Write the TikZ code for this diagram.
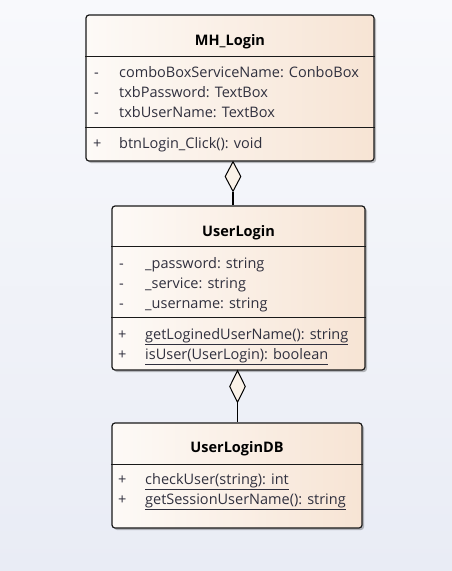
\documentclass[tikz,border=0pt]{standalone}
\usepackage{fontspec}
\setmainfont{Open Sans}
\usetikzlibrary{shapes.geometric, shadows, positioning}

\definecolor{fondhaut}{RGB}{248,249,252}
\definecolor{fondbas}{RGB}{233,236,245}
\definecolor{classegauche}{RGB}{253,250,247}
\definecolor{classedroite}{RGB}{247,228,212}
\definecolor{texteclasse}{RGB}{48,48,62}
\definecolor{fondlosange}{RGB}{250,242,232}

\begin{document}
\begin{tikzpicture}[x=1pt,y=-1pt]
            % Styles
            \tikzstyle{classe}=[draw=black!90,line width=1.2pt,rounded corners=3pt,left color=classegauche,right color=classedroite,drop shadow={shadow xshift=2pt,shadow yshift=-2pt,opacity=0.25,fill=black},inner sep=0pt]
            \tikzstyle{titre}=[font=\fontsize{14.5}{16}\selectfont\bfseries,text=black,anchor=base,inner sep=0pt]
            \tikzstyle{membre}=[font=\fontsize{14.5}{16}\selectfont,text=texteclasse,anchor=base west,inner sep=0pt]
            \tikzstyle{separateur}=[draw=black!90,line width=1pt]
            \tikzstyle{losange}=[diamond,draw=black,line width=1pt,fill=fondlosange,inner sep=0pt,minimum width=16pt,minimum height=30pt]
            \tikzstyle{lien}=[draw=black,line width=1.2pt]
            % Fond
            \shade[top color=fondhaut,bottom color=fondbas] (0,0) rectangle (452,571);
            \useasboundingbox (0,0) rectangle (452,571);
            % Classes
            \node[classe,minimum width=288pt,minimum height=146pt] (MHLogin) at (230,88) {};
            \node[classe,minimum width=253pt,minimum height=164pt] (UserLogin) at (238.5,288) {};
            \node[classe,minimum width=250pt,minimum height=105pt] (UserLoginDB) at (237,475.5) {};
            % Separateurs
            \draw[separateur] (MHLogin.west |- 0,56.5) -- (MHLogin.east |- 0,56.5);
            \draw[separateur] (MHLogin.west |- 0,127) -- (MHLogin.east |- 0,127);
            \draw[separateur] (UserLogin.west |- 0,246) -- (UserLogin.east |- 0,246);
            \draw[separateur] (UserLogin.west |- 0,317) -- (UserLogin.east |- 0,317);
            \draw[separateur] (UserLoginDB.west |- 0,464) -- (UserLoginDB.east |- 0,464);
            % MH_Login
            \node[titre] (MHLoginNom) at (230,45) {MH\_Login};
            \node[membre] (MHa1v) at (94,77) {-};
            \node[membre] (MHa1) at (119,77) {comboBoxServiceName: ConboBox};
            \node[membre] (MHa2v) at (94,97) {-};
            \node[membre] (MHa2) at (119,97) {txbPassword: TextBox};
            \node[membre] (MHa3v) at (94,117) {-};
            \node[membre] (MHa3) at (119,117) {txbUserName: TextBox};
            \node[membre] (MHm1v) at (93,148) {+};
            \node[membre] (MHm1) at (119,148) {btnLogin\_Click(): void};
            % UserLogin
            \node[titre] (UserLoginNom) at (238.5,236) {UserLogin};
            \node[membre] (ULa1v) at (119,268) {-};
            \node[membre] (ULa1) at (145,268) {\_password: string};
            \node[membre] (ULa2v) at (119,288) {-};
            \node[membre] (ULa2) at (145,288) {\_service: string};
            \node[membre] (ULa3v) at (119,308) {-};
            \node[membre] (ULa3) at (145,308) {\_username: string};
            \node[membre] (ULm1v) at (118,339) {+};
            \node[membre] (ULm1) at (145,339) {\underline{getLoginedUserName(): string}};
            \node[membre] (ULm2v) at (118,359) {+};
            \node[membre] (ULm2) at (145,359) {\underline{isUser(UserLogin): boolean}};
            % UserLoginDB
            \node[titre] (UserLoginDBNom) at (237,452) {UserLoginDB};
            \node[membre] (DBm1v) at (118,484) {+};
            \node[membre] (DBm1) at (145,484) {\underline{checkUser(string): int}};
            \node[membre] (DBm2v) at (118,504) {+};
            \node[membre] (DBm2) at (145,504) {\underline{getSessionUserName(): string}};
            % Agregations
            \node[losange,anchor=north] (LosangeA) at (233,161) {};
            \node[losange,anchor=north,minimum height=32pt] (LosangeB) at (237.5,370) {};
            \draw[lien] (LosangeA.south) -- (LosangeA.south |- UserLogin.north);
            \draw[lien] (LosangeB.south) -- (LosangeB.south |- UserLoginDB.north);
        \end{tikzpicture}
\end{document}
